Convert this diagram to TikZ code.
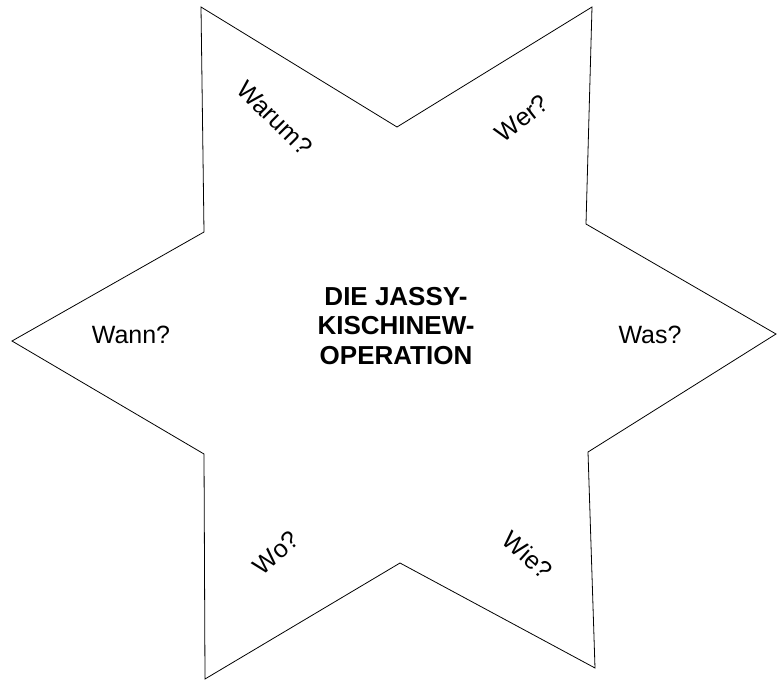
\documentclass[tikz,border=0pt]{standalone}
\usepackage{fontspec}
\setmainfont{Liberation Sans}

\begin{document}
\begin{tikzpicture}[x=1pt,y=-1pt,font=\fontsize{25}{30}\selectfont,
  frage/.style={inner sep=0pt},
  titel/.style={align=center,font=\fontsize{26}{29.5}\selectfont\bfseries}]
\useasboundingbox (0,0) rectangle (777,681);
% star corners
\foreach \n/\x/\y in {a/201/7,b/397/127,c/592/7,d/586/224,e/776/334,f/588/452,
  g/595/668,h/400/563,i/205/679,j/204/454,k/12/341,l/204/232}{
  \coordinate (\n) at (\x,\y);
}
\draw[line width=0.8pt,line join=miter] (a)--(b)--(c)--(d)--(e)--(f)--(g)--(h)--(i)--(j)--(k)--(l)--cycle;
\node[titel] (mitte) at (396,326) {DIE JASSY-\\KISCHINEW-\\OPERATION};
\node[frage] (wann) at (131,335) {Wann?};
\node[frage] (was) at (650,335) {Was?};
\node[frage,rotate=-45] (warum) at (275,118) {Warum?};
\node[frage,rotate=38] (wer) at (522,118) {Wer?};
\node[frage,rotate=42] (wo) at (276,553) {Wo?};
\node[frage,rotate=-42] (wie) at (528,555) {Wie?};
\end{tikzpicture}
\end{document}
